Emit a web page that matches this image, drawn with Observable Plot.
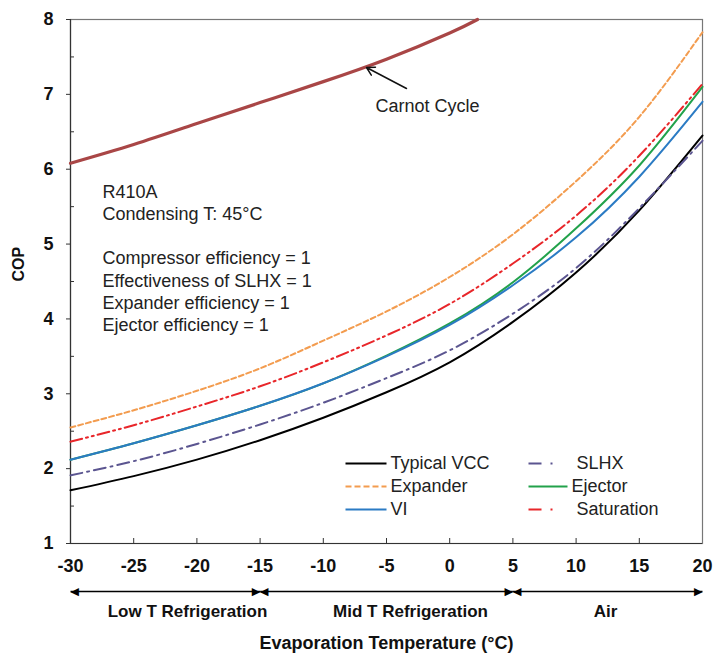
<!DOCTYPE html>
<html><head><meta charset="utf-8">
<script src="https://cdn.jsdelivr.net/npm/d3@7"></script>
<script src="https://cdn.jsdelivr.net/npm/@observablehq/plot@0.6"></script>
<style>body{margin:0;background:#fff;font-family:"Liberation Sans",Arial,sans-serif}</style>
</head><body><div id="chart"></div>
<script>
// ---- data ----
const temps = [-30, -25, -20, -15, -10, -5, 0, 5, 10, 15, 20];
const typicalVCC = [1.71, 1.90, 2.12, 2.38, 2.68, 3.02, 3.42, 3.96, 4.62, 5.45, 6.45];
const slhx       = [1.91, 2.10, 2.33, 2.59, 2.88, 3.21, 3.58, 4.07, 4.68, 5.48, 6.38];
const vi         = [2.12, 2.34, 2.58, 2.84, 3.14, 3.50, 3.92, 4.45, 5.09, 5.90, 6.90];
const ejector    = [2.12, 2.34, 2.58, 2.84, 3.14, 3.51, 3.94, 4.49, 5.21, 6.05, 7.10];
const saturation = [2.36, 2.58, 2.83, 3.10, 3.42, 3.78, 4.20, 4.74, 5.38, 6.18, 7.14];
const expander   = [2.55, 2.78, 3.04, 3.34, 3.71, 4.10, 4.56, 5.13, 5.84, 6.70, 7.83];
const carnotTemps = [-30, -25, -20, -15, -10, -5, 0, 2.2];
const carnot      = [6.08, 6.33, 6.61, 6.89, 7.17, 7.47, 7.82, 8.0];
const xTicks = [-30, -25, -20, -15, -10, -5, 0, 5, 10, 15, 20];
const yTicks = [1, 2, 3, 4, 5, 6, 7, 8];
const yMinor = [1.5, 2.5, 3.5, 4.5, 5.5, 6.5, 7.5];
const regions = [["Low T Refrigeration", -30, -15], ["Mid T Refrigeration", -15, 5], ["Air", 5, 20]];
const infoLines = ["R410A", "Condensing T: 45°C", "", "Compressor efficiency = 1", "Effectiveness of SLHX = 1", "Expander efficiency = 1", "Ejector efficiency = 1"];

// ---- styles ----
const seriesDefs = [
  {name: "Typical VCC", values: typicalVCC, color: "#000000", dash: null, w: 2},
  {name: "SLHX", values: slhx, color: "#5b5590", dash: "12,5,2,5", w: 2},
  {name: "Expander", values: expander, color: "#f39c4f", dash: "5,3", w: 2},
  {name: "Ejector", values: ejector, color: "#22a24b", dash: null, w: 2},
  {name: "VI", values: vi, color: "#2b7bc4", dash: null, w: 2},
  {name: "Saturation", values: saturation, color: "#e8262a", dash: "12,4,2,4,2,4", w: 2}
];
const legendOrder = [["Typical VCC", 0, 0], ["Expander", 0, 1], ["VI", 0, 2], ["SLHX", 1, 0], ["Ejector", 1, 1], ["Saturation", 1, 2]];

const W = 713, H = 659, ML = 70, MR = 11, MT = 19, MB = 116;
const xPx = p => -30 + (p - ML) * 50 / (W - ML - MR);
const yPx = p => 8 - (p - MT) * 7 / (H - MT - MB);
const font = {fontFamily: "Liberation Sans, Arial, sans-serif"};

const marks = [];
// axis lines & frame
marks.push(Plot.frame({stroke: "#777", strokeWidth: 1.2}));
marks.push(Plot.ruleY([1], {stroke: "#333", strokeWidth: 1.2}));
marks.push(Plot.ruleX([-30], {stroke: "#333", strokeWidth: 1.2}));
// ticks
marks.push(Plot.ruleY(yTicks, {x1: xPx(66), x2: -30, stroke: "#333"}));
marks.push(Plot.ruleY(yMinor, {x1: -30, x2: xPx(74), stroke: "#333"}));
marks.push(Plot.ruleX(xTicks.slice(1, -1), {y1: 1, y2: yPx(538), stroke: "#333"}));
// tick labels
marks.push(Plot.text(yTicks, {x: -30, y: d => d, text: d => String(d), dx: -17, textAnchor: "end", fontWeight: "bold", fontSize: 18, fill: "#111", ...font}));
marks.push(Plot.text(xTicks, {x: d => d, y: 1, dy: 23, text: d => String(d), fontWeight: "bold", fontSize: 18, fill: "#111", ...font}));
marks.push(Plot.text(["COP"], {frameAnchor: "left", dx: -52, rotate: -90, fontWeight: "bold", fontSize: 16, fill: "#111", ...font}));

// carnot
const carnotRows = carnotTemps.map((t, i) => ({T: t, COP: carnot[i]}));
marks.push(Plot.line(carnotRows, {x: "T", y: "COP", stroke: "#a94646", strokeWidth: 3.2, curve: "natural"}));
// series
for (const s of seriesDefs) {
  const rows = temps.map((t, i) => ({T: t, COP: s.values[i]}));
  marks.push(Plot.line(rows, {x: "T", y: "COP", stroke: s.color, strokeWidth: s.w, strokeDasharray: s.dash, curve: "natural"}));
}

// Carnot annotation
marks.push(Plot.arrow([0], {x1: xPx(406), y1: yPx(88), x2: xPx(366), y2: yPx(67), stroke: "#111", strokeWidth: 1.5, headLength: 9}));
marks.push(Plot.text(["Carnot Cycle"], {x: xPx(427), y: yPx(106), text: d => d, fontSize: 18, fill: "#222", ...font}));

// info text
const infoY = [192, 214, 236, 258, 281, 303, 325];
marks.push(Plot.text(infoLines.map((t, i) => ({t, i})).filter(d => d.t), {x: xPx(102), y: d => yPx(infoY[d.i]), text: "t", textAnchor: "start", fontSize: 18, fill: "#222", ...font}));

// legend
const legX = [[345, 386, 390], [528, 567, 571]];
const legY = [463, 486, 509];
for (const [name, c, r] of legendOrder) {
  const s = seriesDefs.find(d => d.name === name);
  const dash = s.dash ? (name === "Expander" ? "6,3" : "13,9,2,20") : null;
  marks.push(Plot.link([0], {x1: xPx(legX[c][0]), x2: xPx(legX[c][1]), y1: yPx(legY[r]), y2: yPx(legY[r]), stroke: s.color, strokeWidth: 2, strokeDasharray: dash}));
  const tx = name === "SLHX" || name === "Saturation" ? legX[c][2] + 5 : legX[c][2];
  marks.push(Plot.text([name], {x: xPx(tx), y: yPx(legY[r]), text: d => d, textAnchor: "start", fontSize: 18, fill: "#222", ...font}));
}

// region arrows and labels
marks.push(Plot.link(regions, {x1: d => d[1], x2: d => d[2], y1: 1, y2: 1, dy: 48, stroke: "#000", strokeWidth: 1.5}));
const headsR = regions.map(d => d[2]);
const headsL = regions.map(d => d[1]);
marks.push(Plot.text(headsR, {x: d => d, y: 1, dy: 48, text: () => "▶", textAnchor: "end", fontSize: 11, fill: "#000", fontFamily: "DejaVu Sans"}));
marks.push(Plot.text(headsL, {x: d => d, y: 1, dy: 48, text: () => "◀", textAnchor: "start", fontSize: 11, fill: "#000", fontFamily: "DejaVu Sans"}));
const regionLabelX = [187, 410, 605];
marks.push(Plot.text(regions, {x: (d, i) => xPx(regionLabelX[i]), y: 1, dy: 68, text: d => d[0], fontWeight: "bold", fontSize: 17, fill: "#111", ...font}));
marks.push(Plot.text(["Evaporation Temperature (°C)"], {frameAnchor: "bottom", dy: 105, fontWeight: "bold", fontSize: 18, fill: "#111", ...font}));

const chart = Plot.plot({
  width: W, height: H,
  marginLeft: ML, marginRight: MR, marginTop: MT, marginBottom: MB,
  x: {domain: [-30, 20], axis: null},
  y: {domain: [1, 8], axis: null},
  style: {background: "#fff", overflow: "visible"},
  marks
});
document.getElementById("chart").appendChild(chart);
</script>
</body></html>
